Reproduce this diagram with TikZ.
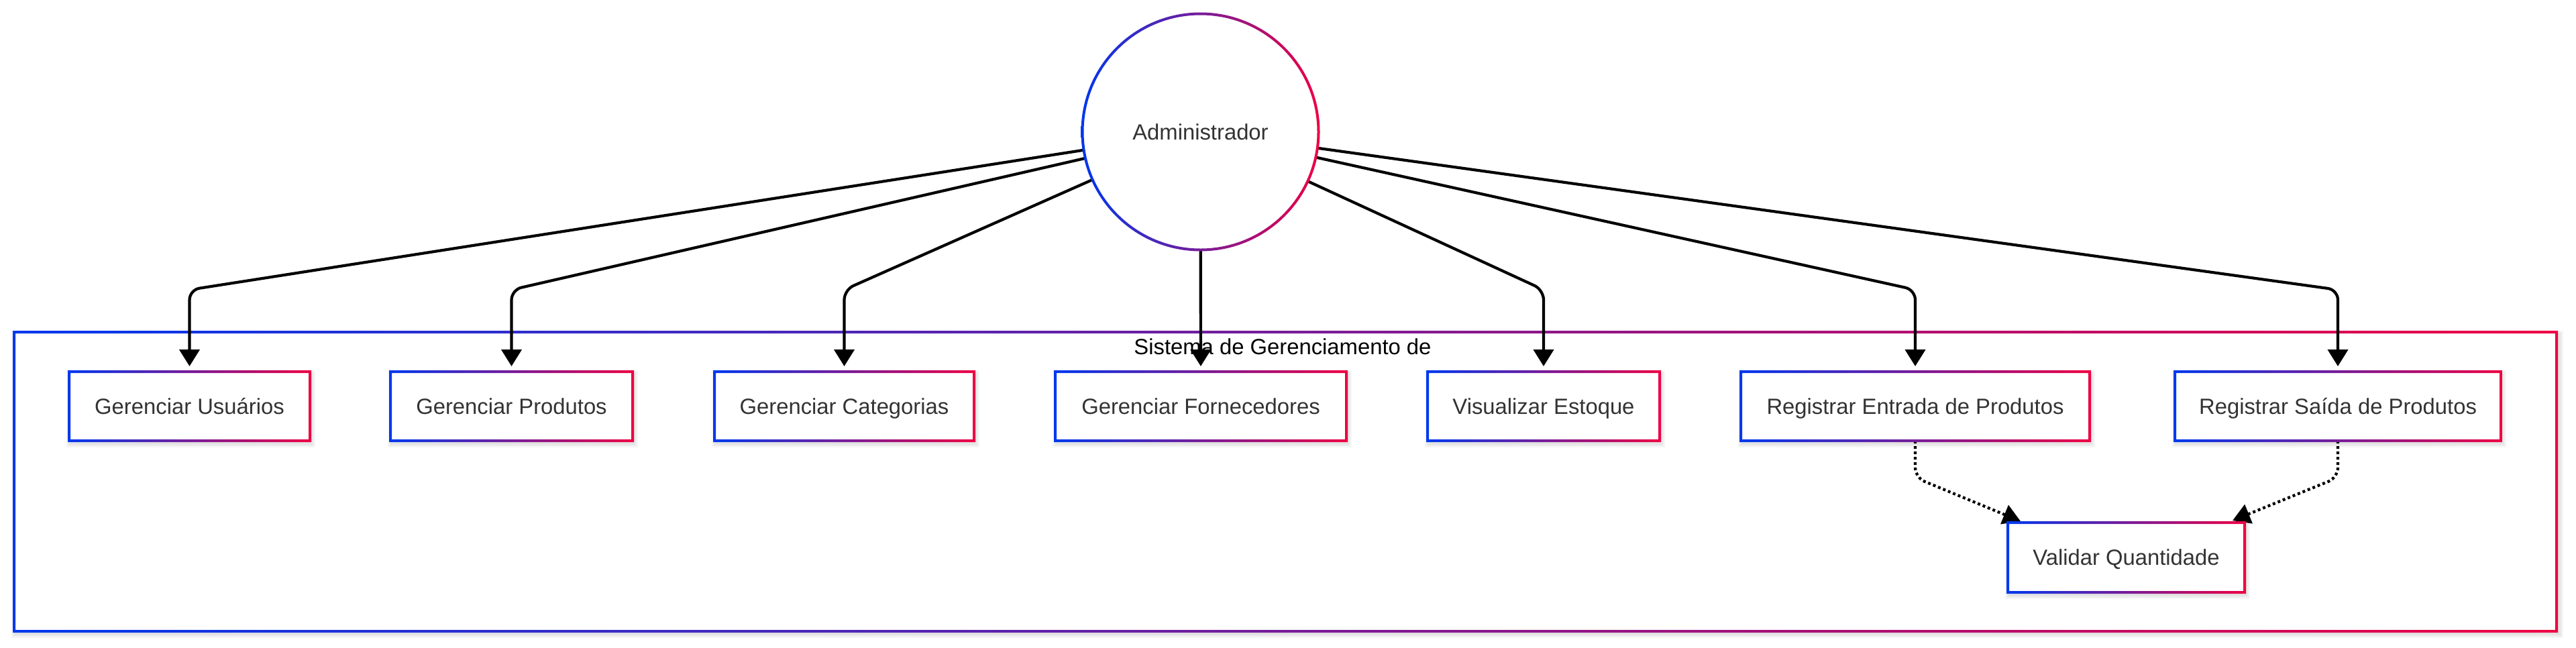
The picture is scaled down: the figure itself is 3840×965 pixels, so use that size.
\documentclass[tikz,border=0pt]{standalone}
\usepackage{fontspec}
\setmainfont{Liberation Sans}
\usetikzlibrary{arrows.meta,calc}
\definecolor{gblue}{HTML}{0038EE}
\definecolor{gred}{HTML}{EE0044}
\definecolor{txt}{HTML}{333333}
\pgfdeclarelayer{bottom}
\pgfdeclarelayer{back}
\pgfsetlayers{bottom,back,main}
\begin{document}
\begin{tikzpicture}[x=0.5pt,y=0.5pt,
  box/.style={rectangle, inner sep=0pt, outer sep=0pt, text=txt,
    font=\fontsize{16.4}{20}\selectfont, text height=11.74pt, text depth=0pt,
    minimum height=51.5pt},
  conn/.style={draw=black, line width=2.1pt, rounded corners=7.5pt,
    -{Triangle[length=12.5pt,width=15pt]}, shorten >=4pt},
  dconn/.style={draw=black, line width=2.1pt, dash pattern=on 2pt off 2pt,
    rounded corners=7.5pt, -{Triangle[length=13pt,width=15pt]}},
  gring/.style={left color=gblue, right color=gred, even odd rule},
  shadowfill/.style={fill=black, fill opacity=0.035}]
\begin{pgfonlayer}{bottom}
\useasboundingbox[fill=white] (0,0) rectangle (3840,-965);
\end{pgfonlayer}

% system frame with soft shadow
\begin{pgfonlayer}{back}
\foreach \d in {0,2,4}
  \fill[shadowfill] (21-\d,-947-\d) rectangle (3817+\d,-497+\d);
\fill[white] (23,-939) rectangle (3809,-497);
\shade[gring] (19,-943) rectangle (3813,-493) (23,-939) rectangle (3809,-497);
\end{pgfonlayer}
\node[font=\fontsize{16.4}{20}\selectfont, anchor=base, inner sep=0pt] (syslabel) at (1912,-528) {Sistema de Gerenciamento de};

% use case boxes
\node[box, minimum width=179.5pt] (u)   at (282.5,-605.5)  {Gerenciar Usuários};
\node[box, minimum width=180.5pt] (p)   at (762.5,-605.5)  {Gerenciar Produtos};
\node[box, minimum width=193.5pt] (c)   at (1258.5,-605.5) {Gerenciar Categorias};
\node[box, minimum width=217pt]   (f)   at (1790,-605.5)   {Gerenciar Fornecedores};
\node[box, minimum width=173pt]   (vis) at (2301,-605.5)   {Visualizar Estoque};
\node[box, minimum width=260pt]   (e)   at (2855,-605.5)   {Registrar Entrada de Produtos};
\node[box, minimum width=243pt]   (s)   at (3485,-605.5)   {Registrar Saída de Produtos};
\node[box, minimum width=176.5pt, minimum height=52pt] (v) at (3169.5,-831) {Validar Quantidade};

% soft shadows of boxes
\begin{pgfonlayer}{back}
\foreach \n in {u,p,c,f,vis,e,s,v}{
  \foreach \d in {0,2,4}
    \fill[shadowfill] ([shift={(-\d,-6-\d)}]\n.south west) rectangle ([shift={(4+\d,\d-2)}]\n.north east);
  \fill[white] (\n.south west) rectangle (\n.north east);
}
\end{pgfonlayer}

% actor
\node[circle, minimum size=176pt, inner sep=0pt, outer sep=0pt, fill=white, text=txt,
  font=\fontsize{16.4}{20}\selectfont, text height=11.74pt, text depth=0pt] (admin) at (1789.5,-196.5) {Administrador};

% connectors
\coordinate (bk) at (0,-432);
\coordinate (dk) at (0,-712);
\draw[conn] (admin) -- (u |- bk) -- (u);
\draw[conn] (admin) -- (p |- bk) -- (p);
\draw[conn] (admin) -- (c |- bk) -- (c);
\draw[conn] (admin) -- (f);
\draw[conn] (admin) -- (vis |- bk) -- (vis);
\draw[conn] (admin) -- (e |- bk) -- (e);
\draw[conn] (admin) -- (s |- bk) -- (s);
\draw[dconn] (e) -- (e |- dk) -- ([shift={(19,2)}]v.north west);
\draw[dconn] (s) -- (s |- dk) -- ([shift={(-18,3)}]v.north east);

% gradient borders
\shade[gring] (admin.center) circle (178) (admin.center) circle (174);
\foreach \n in {u,p,c,f,vis,e,s,v}
  \shade[gring] ([shift={(-2,-2)}]\n.south west) rectangle ([shift={(2,2)}]\n.north east)
                ([shift={(2,2)}]\n.south west) rectangle ([shift={(-2,-2)}]\n.north east);
\end{tikzpicture}
\end{document}
